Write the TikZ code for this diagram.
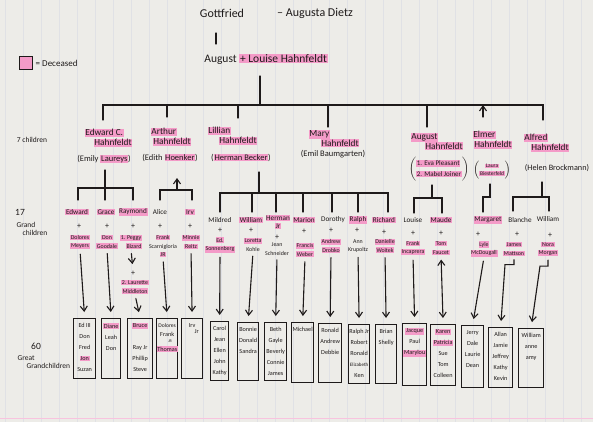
\documentclass[tikz,border=0pt]{standalone}
\usepackage{fontspec}
\setmainfont{Carlito}
\usetikzlibrary{arrows.meta}
\definecolor{paper}{RGB}{237,236,232}
\definecolor{hlc}{RGB}{244,155,200}
\definecolor{ink}{RGB}{30,26,26}
\definecolor{rulec}{RGB}{224,225,229}
\newcommand\hlx[1]{{\setlength{\fboxsep}{0.7pt}\colorbox{hlc}{#1}}}
\newcommand\ggbox[6]{\node[gbx, anchor=north west] (#1) at (#2,#3) {\parbox[t][#5pt][t]{#4pt}{\centering\vspace*{4.5pt}#6}};}
\begin{document}
\begin{tikzpicture}[x=1pt,y=-1pt,
  ln/.style={line width=1.1pt, draw=ink, line cap=round},
  arr/.style={ln, -{Straight Barb[length=5pt,width=7pt]}},
  txt/.style={inner sep=0.5pt, text=ink, align=center},
  cname/.style={txt, font=\fontsize{9.3}{10}\selectfont, align=left, anchor=north west},
  csp/.style={txt, font=\fontsize{8.5}{10}\selectfont},
  gname/.style={txt, font=\fontsize{7.2}{8}\selectfont},
  gsp/.style={txt, font=\fontsize{5.9}{8.5}\selectfont},
  plus/.style={txt, font=\fontsize{8}{8}\selectfont},
  lab/.style={txt, font=\fontsize{7.5}{8.5}\selectfont},
  gbx/.style={draw=ink, line width=1.3pt, inner sep=0pt, font=\fontsize{6.2}{11}\selectfont, text=ink},
  down/.style={arr, shorten <=4pt, shorten >=6pt}]
\useasboundingbox (0,0) rectangle (593,422);
\fill[paper] (0,0) rectangle (593,422);
\foreach \x in {5,23,...,593} \draw[rulec, line width=0.4pt] (\x,0) -- (\x,422);
\draw[hlc!60, line width=0.8pt] (0,418) -- (593,418);

% ---------- top ----------
\node[txt, font=\fontsize{12}{12}\selectfont] (gott) at (222,13) {Gottfried};
\node[txt, font=\fontsize{12}{12}\selectfont] (augusta) at (315,13) {– Augusta Dietz};
\coordinate (g1) at (216,33); \coordinate (g2) at (216,44);
\draw[ln] (g1) -- (g2);
\node[txt, font=\fontsize{11.5}{12}\selectfont] (parents) at (266,59) {August \hlx{+ Louise Hahnfeldt}};

\node[draw=ink, line width=1pt, fill=hlc, minimum size=13pt, inner sep=0pt] (leg) at (26,63) {};
\node[txt, font=\fontsize{9}{10}\selectfont, anchor=west] (legt) at ([xshift=2pt]leg.east) {= Deceased};

\coordinate (pA) at (260,76); \coordinate (pB) at (260,105);
\draw[ln] (pA) -- (pB);
\coordinate (c1) at (103,120); \coordinate (c2) at (167,117); \coordinate (c3) at (238,118);
\coordinate (c4) at (328,127); \coordinate (c5) at (427,127); \coordinate (c6) at (483,117);
\coordinate (c7) at (543,120);
\foreach \c in {c1,c2,c3,c4,c5,c7} \draw[ln] (\c) |- (pB);
\draw[arr] (c6) -- (c6 |- pB);

% ---------- children ----------
\node[lab] (nch) at (32,140) {7 children};
\node[cname] (ed) at (84,128) {\hlx{Edward C.}\\\hspace*{9pt}\hlx{Hahnfeldt}};
\node[cname] (art) at (150,127) {\hlx{Arthur}\\\hspace*{2pt}\hlx{Hahnfeldt}};
\node[cname] (lil) at (207,126) {\hlx{Lillian}\\\hspace*{11pt}\hlx{Hahnfeldt}};
\node[cname] (mary) at (308,129) {\hlx{Mary}\\\hspace*{12pt}\hlx{Hahnfeldt}};
\node[cname] (augc) at (410,132) {\hlx{August}\\\hspace*{14pt}\hlx{Hahnfeldt}};
\node[cname] (elm) at (472,130) {\hlx{Elmer}\\\hspace*{1pt}\hlx{Hahnfeldt}};
\node[cname] (alf) at (523,133) {\hlx{Alfred}\\\hspace*{7pt}\hlx{Hahnfeldt}};

\node[csp] (emily) at (104,159) {(Emily \hlx{Laureys})};
\node[csp] (edith) at (170,158) {(Edith \hlx{Hoenker})};
\node[csp] (herman) at (241,158) {(\hlx{Herman Becker})};
\node[csp] (emil) at (333,154) {(Emil Baumgarten)};
\node[txt, font=\fontsize{7}{10.5}\selectfont] (eva) at (439,169)
  {$\left(\mbox{\begin{tabular}{@{}l@{}}\hlx{1. Eva Pleasant}\\\hlx{2. Mabel Joiner}\end{tabular}}\right)$};
\node[txt, font=\fontsize{5.5}{7.5}\selectfont] (laura) at (492,170)
  {$\left(\mbox{\begin{tabular}{@{}c@{}}\hlx{Laura}\\\hlx{Biesterfeld}\end{tabular}}\right)$};
\node[csp, font=\fontsize{8.2}{10}\selectfont] (helen) at (557,168) {(Helen Brockmann)};

% ---------- family connectors ----------
\coordinate (e1) at (105,170); \coordinate (eb) at (105,188);
\draw[ln] (e1) -- (eb);
\foreach \x in {78,105,133} \draw[ln] (\x,200) |- (eb);
\coordinate (a1) at (177,178); \coordinate (ab) at (177,190);
\draw[arr] (ab) -- (a1);
\foreach \x in {160,192} \draw[ln] (\x,200) |- (ab);
\coordinate (l1) at (259,172); \coordinate (lb) at (259,193);
\draw[ln] (l1) -- (lb);
\foreach \x in {220,252,276,303,332,358,388} \draw[ln] (\x,212) |- (lb);
\coordinate (u1) at (432,185); \coordinate (ub) at (432,198);
\draw[ln] (u1) -- (ub);
\foreach \x in {414,442} \draw[ln] (\x,213) |- (ub);
\coordinate (m1) at (490,184); \coordinate (m2) at (483,212);
\draw[ln] (m1) -- (490,197) -- (483,197) -- (m2);
\coordinate (f1) at (542,182); \coordinate (fb) at (542,197);
\draw[ln] (f1) -- (fb);
\foreach \x in {513,549} \draw[ln] (\x,211) |- (fb);

% ---------- grandchildren ----------
\node[txt, font=\fontsize{9.5}{10}\selectfont] (n17) at (20,212) {17};
\node[lab, align=left, anchor=west] (ngc) at (16,229) {Grand\\\hspace*{6pt}children};

\node[gname] (gEdw) at (77,212) {\hlx{Edward}};
\node[gname] (gGra) at (106,212) {\hlx{Grace}};
\node[gname] (gRay) at (133,212) {\hlx{Raymond}};
\node[gname] (gAli) at (160,212) {Alice};
\node[gname] (gIrv) at (190,212) {\hlx{Irv}};
\foreach \x/\n in {79/pa,107/pb,133/pc,160/pd,190/pe} \node[plus] (\n) at (\x,226) {+};
\node[gsp] (sDol) at (80,242) {\hlx{Dolores}\\\hlx{Meyers}};
\node[gsp] (sDon) at (107,242) {\hlx{Don}\\\hlx{Goodale}};
\node[gsp] (sPeg) at (131,242) {\hlx{1. Peggy}\\\hspace*{6pt}\hlx{Bizard}};
\node[gsp] (sFrj) at (163,246) {\hlx{Frank}\\Scarnigloria\\\hlx{JR}};
\node[gsp] (sMin) at (191,242) {\hlx{Minnie}\\\hlx{Reitz}};
\node[plus] (pf) at (133,273) {+};
\draw[down] (sPeg.south) -- (pf.north);
\node[gsp] (sLau) at (135,287) {\hlx{2. Laurette}\\\hlx{Middleton}};

\node[gname] (gMil) at (220,220) {Mildred};
\node[gname] (gWil) at (251,220) {\hlx{William}};
\node[gname] (gHer) at (278,222) {\hlx{Herman}\\\hlx{Jr}};
\node[gname] (gMar) at (304,220) {\hlx{Marion}};
\node[gname] (gDor) at (333,220) {Dorothy};
\node[gname] (gRal) at (358,220) {\hlx{Ralph}};
\node[gname] (gRic) at (384,220) {\hlx{Richard}};
\foreach \x/\y/\n in {220/230/qa,251/230/qb,277/237/qc,304/231/qd,331/230/qe,357/230/qf,384/232/qg} \node[plus] (\n) at (\x,\y) {+};
\node[gsp] (sEd) at (220,245) {\hlx{Ed.}\\\hlx{Sonnenberg}};
\node[gsp] (sLor) at (253,245) {\hlx{Loretta}\\Kohle};
\node[gsp] (sJea) at (277,249) {Jean\\Schneider};
\node[gsp] (sFra) at (305,250) {\hlx{Francis}\\\hlx{Weber}};
\node[gsp] (sAnd) at (331,246) {\hlx{Andrew}\\\hlx{Drobko}};
\node[gsp] (sAnn) at (358,246) {Ann\\Krupoltz};
\node[gsp] (sDan) at (385,246) {\hlx{Danielle}\\\hlx{Woitek}};

\node[gname] (gLou) at (413,220) {Louise};
\node[gname] (gMau) at (441,220) {\hlx{Maude}};
\node[gname] (gMgt) at (488,220) {\hlx{Margaret}};
\node[gname] (gBla) at (520,220) {Blanche};
\node[gname] (gWlm) at (548,219) {William};
\foreach \x/\y/\n in {413/233/ra,441/233/rb,478/234/rc,517/234/rd,550/235/re} \node[plus] (\n) at (\x,\y) {+};
\node[gsp] (sFrk) at (413,248) {\hlx{Frank}\\\hlx{Incaprera}};
\node[gsp] (sTom) at (441,248) {\hlx{Tom}\\\hlx{Faucet}};
\node[gsp] (sLyl) at (484,249) {\hlx{Lyle}\\\hlx{McDougall}};
\node[gsp] (sJam) at (514,249) {\hlx{James}\\\hlx{Mattson}};
\node[gsp] (sNor) at (548,249) {\hlx{Nora}\\\hlx{Morgan}};

% ---------- great-grandchildren ----------
\node[txt, font=\fontsize{9.5}{10}\selectfont] (n60) at (36,346) {60};
\node[txt, font=\fontsize{7.5}{8}\selectfont, align=left, anchor=west] (ngg) at (17,362) {Great\\\hspace*{9pt}Grandchildren};

\ggbox{b1}{73}{318}{22}{60}{Ed III\\Don\\Fred\\\hlx{Jon}\\Suzan}
\ggbox{b2}{101}{318}{19}{60}{\hlx{Diane}\\Leah\\Don}
\ggbox{b3}{127}{318}{25}{60}{\hlx{Bruce}\\~\\Ray Jr\\Phillip\\Steve}
\ggbox{b4}{156}{318}{21}{60}{{\fontsize{5.6}{6}\selectfont Dolores}\\[-2pt]Frank\\[-5pt]{\fontsize{4}{4}\selectfont\hspace*{6pt}JR}\\[-2pt]\hlx{Thomas}}
\ggbox{b5}{181}{318}{21}{60}{Irv\\[-5pt]\hspace*{9pt}Jr}
\ggbox{b6}{210}{321}{18}{59}{Carol\\Jean\\Ellen\\John\\Kathy}
\ggbox{b7}{237}{322}{21}{58}{Bonnie\\Donald\\Sandra}
\ggbox{b8}{264}{322}{22}{58}{Beth\\Gayle\\Beverly\\Connie\\James}
\ggbox{b9}{291}{322}{22}{60}{Michael}
\ggbox{b10}{318}{323}{23}{59}{Ronald\\Andrew\\Debbie}
\ggbox{b11}{348}{324}{21}{59}{Ralph Jr\\Robert\\Ronald\\{\fontsize{5}{5}\selectfont Elizabeth}\\Ken}
\ggbox{b12}{375}{324}{21}{59}{Brian\\Shelly}
\ggbox{b13}{402}{323}{24}{62}{\hlx{Jacque}\\Paul\\\hlx{Marylou}}
\ggbox{b14}{430}{324}{25}{61}{\hlx{Karen}\\\hlx{Patricia}\\Sue\\Tom\\Colleen}
\ggbox{b15}{461}{325}{22}{62}{Jerry\\Dale\\Laurie\\Dean}
\ggbox{b16}{488}{327}{24}{60}{Allan\\Jamie\\Jeffrey\\Kathy\\Kevin}
\ggbox{b17}{518}{328}{25}{59}{William\\anne\\amy}

\draw[down] (sDol.south) -- (b1.north);
\draw[down] (sDon.south) -- (b2.north);
\draw[down] (sLau.south) -- (b3.north);
\draw[down] (sFrj.south) -- (b4.north);
\draw[down] (sMin.south) -- (b5.north);
\draw[down] (sEd.south) -- (b6.north);
\draw[down] (sLor.south) -- (b7.north);
\draw[down] (sJea.south) -- (b8.north);
\draw[down] (sFra.south) -- (b9.north);
\draw[down] (sAnd.south) -- (b10.north);
\draw[down] (sAnn.south) -- (b11.north);
\draw[down] (sDan.south) -- (b12.north);
\draw[down] (sFrk.south) -- (b13.north);
\draw[down, {Straight Barb[length=5pt,width=7pt]}-{Straight Barb[length=5pt,width=7pt]}] (sTom.south) -- (b14.north);
\draw[down] (sLyl.south) -- (b15.north);
\draw[arr, shorten >=6pt] ([yshift=-3pt]sJam.south) -- ++(0,5) -- ++(-9,0) -- (b16.north);
\draw[arr, shorten >=6pt] ([yshift=-3pt]sNor.south) -- ++(0,6) -- ++(-8,0) -- (b17.north);
\end{tikzpicture}
\end{document}
